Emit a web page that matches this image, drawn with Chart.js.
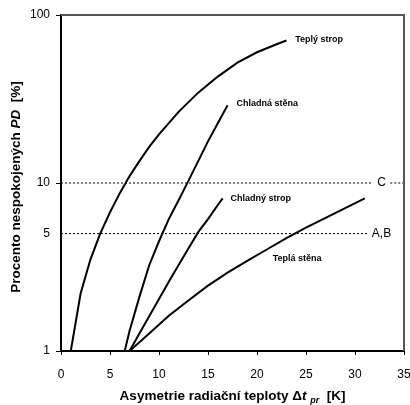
<!DOCTYPE html>
<html>
<head>
<meta charset="utf-8">
<script src="https://cdn.jsdelivr.net/npm/chart.js@4.4.1/dist/chart.umd.min.js"></script>
<style>
  html, body { margin: 0; padding: 0; background: #fff; }
  #wrap { width: 410px; height: 405px; }
</style>
</head>
<body>
<div id="wrap"><canvas id="pdChart" width="410" height="405"></canvas></div>
<script>
// Hodnoty (x = asymetrie [K], y = PD [%])
const warmCeilX = [1, 2, 3, 4, 5, 6, 7, 8, 9, 10, 12, 14, 16, 18, 20, 22, 23];
const warmCeilY = [1.0, 2.2, 3.5, 5.0, 6.7, 8.7, 11, 13.5, 16.4, 19.5, 26.5, 34.5, 43, 52, 60, 67, 70.5];
const coolWallX = [6.5, 7, 8, 9, 10, 11, 12, 13, 14, 15, 16, 17];
const coolWallY = [1.0, 1.32, 2.1, 3.24, 4.5, 6.1, 7.9, 10.3, 13.5, 17.7, 22.7, 29];
const coolCeilX = [7, 8, 9, 10, 11, 12, 13, 14, 15, 16, 16.5];
const coolCeilY = [1.0, 1.27, 1.61, 2.04, 2.58, 3.25, 4.07, 5.1, 6.1, 7.4, 8.1];
const warmWallX = [7, 9, 11, 13, 15, 17, 19, 21, 23, 25, 27, 29, 31];
const warmWallY = [1.0, 1.27, 1.62, 2.0, 2.45, 2.93, 3.44, 4.02, 4.7, 5.42, 6.2, 7.08, 8.1];
const curveNames = ['Teplý strop', 'Chladná stěna', 'Chladný strop', 'Teplá stěna'];

const limitLevels = [10, 5];
const limitNames = ['C', 'A,B'];

const xTicks = [0, 5, 10, 15, 20, 25, 30, 35];
const yTicks = [1, 5, 10, 100];

const FONT = "'Liberation Sans', Arial, sans-serif";

const toPoints = (xs, ys) => xs.map((x, i) => ({ x: x, y: ys[i] }));

const curveSets = [
    [warmCeilX, warmCeilY],
    [coolWallX, coolWallY],
    [coolCeilX, coolCeilY],
    [warmWallX, warmWallY]
].map(([xs, ys], i) => ({
    label: curveNames[i],
    data: toPoints(xs, ys),
    borderColor: '#000',
    borderWidth: 2,
    pointRadius: 0,
    tension: 0,
    showLine: true
}));

// tečkované hranice tříd (C má mezeru pro popisek, A,B končí před ním)
const limitSets = limitLevels.map((lvl, i) => ({
    label: limitNames[i],
    data: i === 0
        ? [{ x: 0, y: lvl }, { x: 31.8, y: lvl }, { x: 32.7, y: null }, { x: 33.6, y: lvl }, { x: 35, y: lvl }]
        : [{ x: 0, y: lvl }, { x: 31.3, y: lvl }],
    borderColor: '#000',
    borderWidth: 1,
    borderDash: [2, 2],
    pointRadius: 0,
    showLine: true,
    spanGaps: false
}));

// popisky křivek a tříd
const annotations = [
    { text: curveNames[0], x: 23.9, y: 71, align: 'left', font: 'bold 9px ' + FONT },
    { text: curveNames[1], x: 17.9, y: 29.8, align: 'left', font: 'bold 9px ' + FONT },
    { text: curveNames[2], x: 17.3, y: 8.1, align: 'left', font: 'bold 9px ' + FONT },
    { text: curveNames[3], x: 21.6, y: 3.56, align: 'left', font: 'bold 9px ' + FONT },
    { text: limitNames[0], x: 32.7, y: limitLevels[0], align: 'center', font: '12px ' + FONT },
    { text: limitNames[1], x: 32.7, y: limitLevels[1], align: 'center', font: '12px ' + FONT }
];

function drawRuns(ctx, runs, cx, cy) {
    let total = 0;
    runs.forEach(r => {
        ctx.font = r.font;
        r.w = ctx.measureText(r.text).width;
        total += r.w;
    });
    let px = cx - total / 2;
    runs.forEach(r => {
        ctx.font = r.font;
        ctx.fillText(r.text, px, cy + (r.dy || 0));
        px += r.w;
    });
}

const textPlugin = {
    id: 'pdTexts',
    afterDraw(chart) {
        const { ctx, chartArea: a, scales } = chart;
        const sx = scales.x, sy = scales.y;
        ctx.save();

        // horní a pravý okraj rámečku
        ctx.setLineDash([]);
        ctx.strokeStyle = '#555';
        ctx.lineWidth = 2;
        ctx.beginPath();
        ctx.moveTo(Math.round(a.left), Math.round(a.top));
        ctx.lineTo(Math.round(a.right), Math.round(a.top));
        ctx.lineTo(Math.round(a.right), Math.round(a.bottom));
        ctx.stroke();

        ctx.fillStyle = '#000';
        ctx.textBaseline = 'middle';
        annotations.forEach(an => {
            ctx.font = an.font;
            ctx.textAlign = an.align;
            ctx.fillText(an.text, sx.getPixelForValue(an.x), sy.getPixelForValue(an.y));
        });

        // název osy x
        ctx.textAlign = 'left';
        ctx.textBaseline = 'alphabetic';
        const b = 'bold 13.5px ' + FONT;
        drawRuns(ctx, [
            { text: 'Asymetrie radiační teploty ', font: b },
            { text: 'Δ', font: b },
            { text: 't', font: 'italic ' + b },
            { text: ' ', font: b },
            { text: 'pr', font: 'italic bold 9px ' + FONT, dy: 3 },
            { text: '  [K]', font: b }
        ], (a.left + a.right) / 2, 399.5);

        // název osy y
        ctx.translate(20, 187);
        ctx.rotate(-Math.PI / 2);
        drawRuns(ctx, [
            { text: 'Procento nespokojených ', font: b },
            { text: 'PD', font: 'italic ' + b },
            { text: '  [%]', font: b }
        ], 0, 0);

        ctx.restore();
    }
};

new Chart(document.getElementById('pdChart'), {
    type: 'scatter',
    data: { datasets: [...limitSets, ...curveSets] },
    options: {
        responsive: false,
        devicePixelRatio: 1,
        animation: false,
        layout: { padding: { top: 15, right: 6, left: 0, bottom: 0 } },
        plugins: {
            legend: { display: false },
            tooltip: { enabled: false }
        },
        scales: {
            x: {
                type: 'linear',
                min: 0,
                max: 35,
                afterBuildTicks: s => { s.ticks = xTicks.map(v => ({ value: v })); },
                afterFit: s => { s.height = 54; s.paddingLeft = 0; s.paddingRight = 0; },
                ticks: {
                    color: '#000',
                    font: { size: 12, family: FONT },
                    padding: 12,
                    maxRotation: 0
                },
                grid: { drawOnChartArea: false, drawTicks: true, tickLength: 4, color: '#000' },
                border: { color: '#000', width: 2 }
            },
            y: {
                type: 'logarithmic',
                min: 1,
                max: 100,
                afterBuildTicks: s => { s.ticks = yTicks.map(v => ({ value: v })); },
                afterFit: s => { s.width = 61; s.paddingTop = 0; s.paddingBottom = 0; },
                ticks: {
                    color: '#000',
                    font: { size: 12, family: FONT },
                    padding: 6,
                    callback: v => yTicks.includes(v) ? String(v) : ''
                },
                grid: {
                    drawOnChartArea: false,
                    drawTicks: true,
                    tickLength: 5,
                    color: c => (c.tick && c.tick.value === 5) ? 'rgba(0,0,0,0)' : '#000'
                },
                border: { color: '#000', width: 2 }
            }
        }
    },
    plugins: [textPlugin]
});
</script>
</body>
</html>
